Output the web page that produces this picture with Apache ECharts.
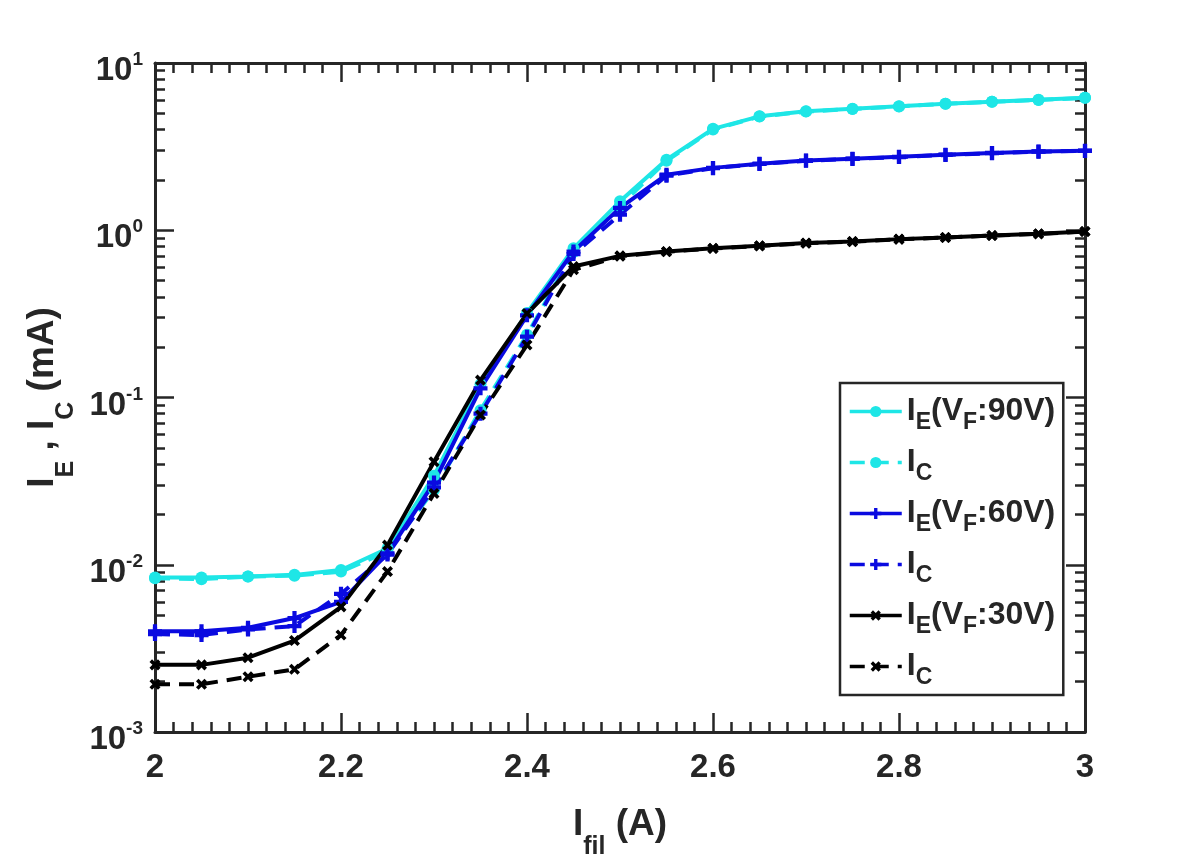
<!DOCTYPE html>
<html>
<head>
<meta charset="utf-8">
<script src="https://cdn.jsdelivr.net/npm/echarts@6/dist/echarts.min.js"></script>
<style>
  html, body { margin: 0; padding: 0; background: #fff; }
  #chart { width: 1196px; height: 854px; }
</style>
</head>
<body>
<div id="chart"></div>
<script>
// filament current (A)
var filCurrent = [2.00, 2.05, 2.10, 2.15, 2.20, 2.25, 2.30, 2.35, 2.40, 2.45, 2.50,
                  2.55, 2.60, 2.65, 2.70, 2.75, 2.80, 2.85, 2.90, 2.95, 3.00];

// currents in mA
var ie90 = [0.0084, 0.0084, 0.0085, 0.0087, 0.0093, 0.0125, 0.034, 0.120, 0.320, 0.78, 1.49,
            2.64, 4.04, 4.80, 5.14, 5.32, 5.51, 5.71, 5.87, 6.02, 6.20];
var ic90 = [0.0083, 0.0082, 0.0085, 0.0086, 0.0091, 0.0120, 0.028, 0.084, 0.237, 0.74, 1.40,
            2.60, 4.00, 4.78, 5.12, 5.31, 5.50, 5.70, 5.86, 6.01, 6.19];
var ie60 = [0.0040, 0.0040, 0.0042, 0.0048, 0.0060, 0.0117, 0.031, 0.1135, 0.310, 0.746, 1.36,
            2.15, 2.36, 2.50, 2.61, 2.68, 2.75, 2.83, 2.90, 2.96, 2.99];
var ic60 = [0.00385, 0.0038, 0.0041, 0.0043, 0.0067, 0.0115, 0.029, 0.080, 0.231, 0.72, 1.24,
            2.12, 2.35, 2.49, 2.60, 2.67, 2.74, 2.82, 2.89, 2.95, 2.98];
var ie30 = [0.00252, 0.00252, 0.00278, 0.00352, 0.0056, 0.0131, 0.0413, 0.127, 0.318, 0.607, 0.703,
            0.746, 0.780, 0.807, 0.838, 0.857, 0.885, 0.906, 0.931, 0.953, 0.984];
var ic30 = [0.00193, 0.00193, 0.00214, 0.00237, 0.0038, 0.0091, 0.0267, 0.0785, 0.206, 0.58, 0.70,
            0.744, 0.778, 0.805, 0.836, 0.855, 0.883, 0.904, 0.929, 0.951, 0.982];

var seriesNames = ['IE90', 'IC90', 'IE60', 'IC60', 'IE30', 'IC30'];
var legendLabels = {
    IE90: '{m|I}{s|E}{m|(V}{s|F}{m|:90V)}',
    IC90: '{m|I}{s|C}',
    IE60: '{m|I}{s|E}{m|(V}{s|F}{m|:60V)}',
    IC60: '{m|I}{s|C}',
    IE30: '{m|I}{s|E}{m|(V}{s|F}{m|:30V)}',
    IC30: '{m|I}{s|C}'
};

// minor log ticks 2..9 per decade
var minorLogTicks = [0.002, 0.003, 0.004, 0.005, 0.006, 0.007, 0.008, 0.009,
                     0.02, 0.03, 0.04, 0.05, 0.06, 0.07, 0.08, 0.09,
                     0.2, 0.3, 0.4, 0.5, 0.6, 0.7, 0.8, 0.9,
                     2, 3, 4, 5, 6, 7, 8, 9];

var FONT = 'Liberation Sans, Arial, Helvetica, sans-serif';
var INK = '#262626';
var CYAN = '#1ee6e6';
var BLUE = '#0a0ae0';
var BLACK = '#000000';

var plusPath = 'path://M-1.8,-6H1.8V-1.8H6V1.8H1.8V6H-1.8V1.8H-6V-1.8H-1.8Z';

// subscript: padding on top pushes the small text down
var legendRich = {
    m: { fontSize: 32, fontWeight: 'bold', fontFamily: FONT, color: INK, lineHeight: 34 },
    s: { fontSize: 23, fontWeight: 'bold', fontFamily: FONT, color: INK, lineHeight: 24, padding: [22, 0, 0, 0] }
};
var nameRich = {
    m: { fontSize: 37, fontWeight: 'bold', fontFamily: FONT, color: INK, lineHeight: 40 },
    s: { fontSize: 25, fontWeight: 'bold', fontFamily: FONT, color: INK, lineHeight: 26, padding: [46, 0, 0, 0] }
};

var pairs = function (ys) {
    return filCurrent.map(function (x, i) { return [x, ys[i]]; });
};

var makeSeries = function (name, ys, color, dashed, symbol, size, rotate) {
    return {
        name: name,
        type: 'line',
        data: pairs(ys),
        xAxisIndex: 0,
        yAxisIndex: 0,
        symbol: symbol,
        symbolSize: size,
        symbolRotate: rotate || 0,
        showAllSymbol: true,
        lineStyle: { color: color, width: 4, type: dashed ? [15, 9] : 'solid' },
        itemStyle: { color: color, borderColor: color, borderWidth: 0 },
        emphasis: { disabled: true },
        animation: false,
        z: 3
    };
};

var xBase = {
    type: 'value', min: 2, max: 3, interval: 0.2,
    axisLine: { show: true, onZero: false, lineStyle: { color: INK, width: 3 } },
    axisTick: { show: true, inside: true, length: 19, lineStyle: { color: INK, width: 2.5 } },
    minorTick: { show: true, splitNumber: 10, length: 10, lineStyle: { color: INK, width: 2.5 } },
    splitLine: { show: false }
};

var yBase = {
    type: 'log', logBase: 10, min: 0.001, max: 10,
    axisLine: { show: true, onZero: false, lineStyle: { color: INK, width: 3 } },
    axisTick: { show: true, inside: true, length: 19, lineStyle: { color: INK, width: 2.5 } },
    splitLine: { show: false }
};

var yMinor = function (pos) {
    return {
        type: 'log', logBase: 10, min: 0.001, max: 10, position: pos,
        axisLine: { show: false },
        axisLabel: { show: false },
        splitLine: { show: false },
        axisTick: { show: true, inside: true, length: 10, customValues: minorLogTicks,
                    lineStyle: { color: INK, width: 2.5 } }
    };
};

var option = {
    backgroundColor: '#ffffff',
    animation: false,
    grid: { left: 155, right: 111, top: 63, bottom: 122, containLabel: false, outerBoundsMode: 'none' },
    xAxis: [
        Object.assign({}, xBase, {
            position: 'bottom',
            axisLabel: {
                show: true, margin: 19, fontSize: 33, fontWeight: 'bold', fontFamily: FONT, color: INK,
                formatter: function (v) { return String(+v.toFixed(1)); }
            },
            name: '{m|I}{s|fil}{m| (A)}',
            nameLocation: 'middle',
            nameGap: 48,
            nameTextStyle: { rich: nameRich }
        }),
        Object.assign({}, xBase, { position: 'top', axisLabel: { show: false } })
    ],
    yAxis: [
        Object.assign({}, yBase, {
            position: 'left',
            axisLabel: {
                show: true, margin: 12,
                formatter: function (v) {
                    var e = Math.round(Math.log(v) / Math.LN10);
                    return '{b|10}{sup|' + e + '}';
                },
                rich: {
                    b: { fontSize: 33, fontWeight: 'bold', fontFamily: FONT, color: INK, lineHeight: 34, padding: [16, 0, 0, 0] },
                    sup: { fontSize: 19, fontWeight: 'bold', fontFamily: FONT, color: INK, lineHeight: 20, padding: [0, 0, 6, 0] }
                }
            },
            name: '{m|I}{s|E}{m| , I}{s|C}{m| (mA)}',
            nameLocation: 'middle',
            nameGap: 90,
            nameTextStyle: { rich: nameRich }
        }),
        Object.assign({}, yBase, { position: 'right', axisLabel: { show: false } }),
        yMinor('left'),
        yMinor('right')
    ],
    legend: {
        data: seriesNames,
        orient: 'vertical',
        left: 840,
        top: 383,
        padding: [6, 8, 6, 8],
        itemWidth: 52,
        itemHeight: 14,
        itemGap: 6,
        backgroundColor: '#ffffff',
        borderColor: INK,
        borderWidth: 2.5,
        borderRadius: 0,
        selectedMode: false,
        lineStyle: { width: 3.5 },
        formatter: function (name) { return legendLabels[name]; },
        textStyle: { rich: legendRich }
    },
    series: [
        makeSeries('IE90', ie90, CYAN, false, 'circle', 12),
        makeSeries('IC90', ic90, CYAN, true, 'circle', 12),
        makeSeries('IE60', ie60, BLUE, false, plusPath, 14),
        makeSeries('IC60', ic60, BLUE, true, plusPath, 14),
        makeSeries('IE30', ie30, BLACK, false, plusPath, 12, 45),
        makeSeries('IC30', ic30, BLACK, true, plusPath, 12, 45)
    ]
};

var chart = echarts.init(document.getElementById('chart'), null, { renderer: 'canvas' });
chart.setOption(option);
</script>
</body>
</html>
